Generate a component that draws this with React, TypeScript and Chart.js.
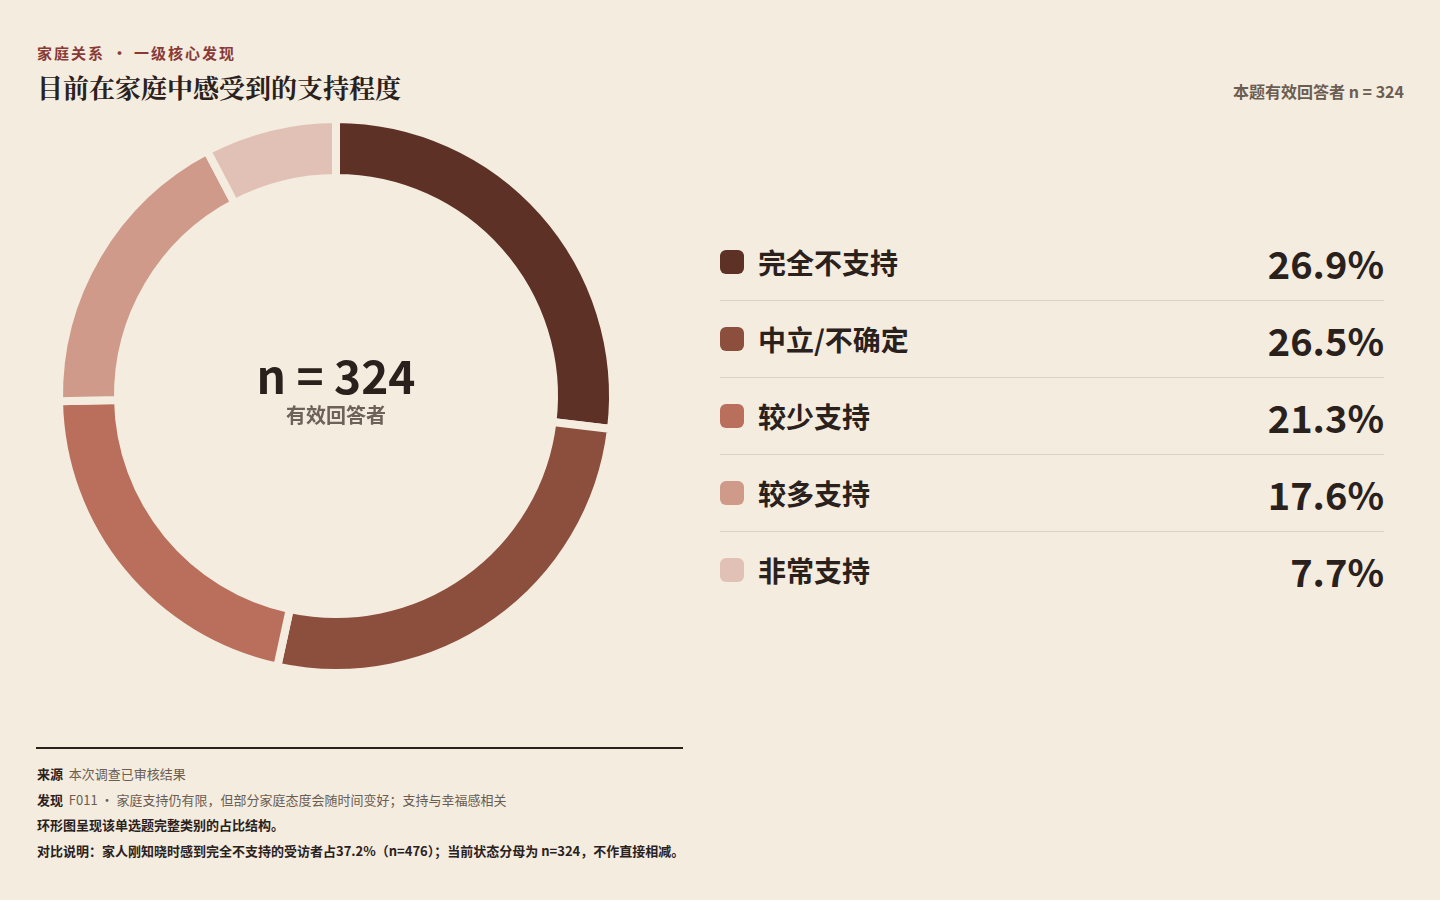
import React, { useEffect, useRef } from 'react';
import { Chart, registerables } from 'chart.js';

Chart.register(...registerables);

const categories = ['完全不支持', '中立/不确定', '较少支持', '较多支持', '非常支持'];
const shares = [26.9, 26.5, 21.3, 17.6, 7.7];
const sliceColors = ['#5e3126', '#8c4f3d', '#b96f5b', '#cf9a8a', '#e1c1b6'];
const respondents = 324;

const BG = '#f3ecdf';
const INK = '#2b211c';
const SANS = '"Noto Sans CJK SC", "Noto Sans", sans-serif';
const SERIF = '"Noto Serif CJK SC", "Noto Serif SC", serif';

export default function App() {
  const chartRef = useRef<HTMLCanvasElement>(null);
  const chartInstance = useRef<Chart | null>(null);

  useEffect(() => {
    document.body.style.margin = '0';
    if (!chartRef.current) return;
    const ctx = chartRef.current.getContext('2d');
    if (!ctx) return;

    // border in background colour gives the gaps between slices
    chartInstance.current = new Chart(ctx, {
      type: 'doughnut',
      data: {
        labels: categories,
        datasets: [
          {
            data: shares,
            backgroundColor: sliceColors,
            borderColor: BG,
            borderWidth: 8,
            hoverOffset: 0
          }
        ]
      },
      options: {
        animation: false,
        responsive: true,
        maintainAspectRatio: false,
        radius: 277,
        cutout: '78.7%',
        rotation: 0,
        layout: { padding: 0 },
        plugins: {
          legend: { display: false },
          tooltip: { enabled: false }
        }
      }
    });

    return () => {
      if (chartInstance.current) {
        chartInstance.current.destroy();
        chartInstance.current = null;
      }
    };
  }, []);

  return (
    <div style={{ position: 'fixed', left: 0, top: 0, width: 1440, height: 900, background: BG, fontFamily: SANS, color: INK, overflow: 'hidden' }}>
      <div style={{ position: 'absolute', left: 37, top: 42, fontSize: 15, fontWeight: 700, color: '#8a3a36', letterSpacing: 2, whiteSpace: 'nowrap' }}>
        <span>家庭关系</span>
        <span style={{ margin: '0 5px 0 7px' }}>·</span>
        <span>一级核心发现</span>
      </div>
      <div style={{ position: 'absolute', left: 37, top: 69, fontSize: 26, fontWeight: 700, fontFamily: SERIF, color: INK, lineHeight: '36px' }}>
        目前在家庭中感受到的支持程度
      </div>
      <div style={{ position: 'absolute', right: 36, top: 79, fontSize: 16, fontWeight: 700, color: '#6b5d52' }}>
        本题有效回答者 n = {respondents}
      </div>

      <div style={{ position: 'absolute', left: 36, top: 96, width: 600, height: 600 }}>
        <canvas ref={chartRef} />
      </div>
      <div style={{ position: 'absolute', left: 136, top: 346, width: 400, textAlign: 'center' }}>
        <div style={{ fontSize: 46, fontWeight: 700, lineHeight: '56px', color: INK }}>n = {respondents}</div>
        <div style={{ fontSize: 20, fontWeight: 700, lineHeight: '26px', color: '#6e6258' }}>有效回答者</div>
      </div>

      <div style={{ position: 'absolute', left: 720, top: 224, width: 664 }}>
        {categories.map((name, i) => (
          <div
            key={name}
            style={{
              height: 76,
              display: 'flex',
              alignItems: 'center',
              borderBottom: i < categories.length - 1 ? '1px solid #ddd2c4' : 'none'
            }}
          >
            <div style={{ width: 24, height: 24, borderRadius: 6, background: sliceColors[i], marginRight: 14 }} />
            <div style={{ flex: 1, fontSize: 28, fontWeight: 700 }}>{name}</div>
            <div style={{ fontSize: 38, fontWeight: 700 }}>{shares[i].toFixed(1)}%</div>
          </div>
        ))}
      </div>

      <div style={{ position: 'absolute', left: 36, top: 747, width: 647, height: 2, background: INK }} />
      <div style={{ position: 'absolute', left: 37, top: 761, fontSize: 13, lineHeight: '25.7px', color: INK }}>
        <div><b>来源</b>&nbsp; <span style={{ color: '#6b5d52' }}>本次调查已审核结果</span></div>
        <div><b>发现</b>&nbsp; <span style={{ color: '#6b5d52' }}>F011 · 家庭支持仍有限，但部分家庭态度会随时间变好；支持与幸福感相关</span></div>
        <div style={{ fontWeight: 700 }}>环形图呈现该单选题完整类别的占比结构。</div>
        <div style={{ fontWeight: 700 }}>对比说明：家人刚知晓时感到完全不支持的受访者占37.2%（n=476）；当前状态分母为 n=324，不作直接相减。</div>
      </div>
    </div>
  );
}
